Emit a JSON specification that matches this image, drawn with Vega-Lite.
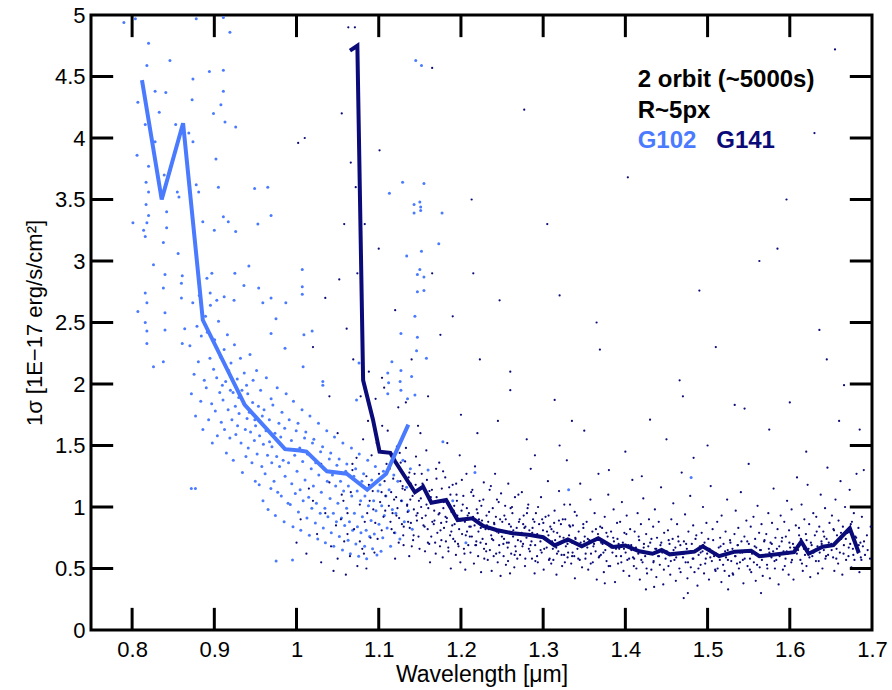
{
"$schema":"https://vega.github.io/schema/vega-lite/v6.json",
"width":781,"height":615,
"autosize":{"type":"none"},
"padding":{"left":91,"top":15,"right":20,"bottom":60},
"background":"white",
"config":{"view":{"stroke":"black","strokeWidth":3},"font":"Liberation Sans"},
"datasets":{
"xticksBottom":[{"v":0.8},{"v":0.9},{"v":1.0},{"v":1.1},{"v":1.2},{"v":1.3},{"v":1.4},{"v":1.5},{"v":1.6}],
"xticksTop":[{"v":0.8},{"v":0.9},{"v":1.0},{"v":1.1},{"v":1.2},{"v":1.3},{"v":1.4},{"v":1.5},{"v":1.6}],
"yticksLeft":[{"v":0.5},{"v":1.0},{"v":1.5},{"v":2.0},{"v":2.5},{"v":3.0},{"v":3.5},{"v":4.0},{"v":4.5}],
"yticksRight":[{"v":0.5},{"v":1.0},{"v":1.5},{"v":2.0},{"v":2.5},{"v":3.0},{"v":3.5},{"v":4.0},{"v":4.5}],
"g102line":[{"w":0.812,"s":4.47},{"w":0.836,"s":3.5},{"w":0.862,"s":4.12},{"w":0.886,"s":2.52},{"w":0.937,"s":1.83},{"w":0.986,"s":1.47},{"w":1.004,"s":1.46},{"w":1.012,"s":1.45},{"w":1.037,"s":1.29},{"w":1.061,"s":1.27},{"w":1.086,"s":1.14},{"w":1.109,"s":1.27},{"w":1.136,"s":1.67}],
"g141line":[{"w":1.065,"s":4.71},{"w":1.074,"s":4.75},{"w":1.081,"s":2.03},{"w":1.093,"s":1.71},{"w":1.101,"s":1.45},{"w":1.114,"s":1.44},{"w":1.12,"s":1.37},{"w":1.144,"s":1.12},{"w":1.154,"s":1.165},{"w":1.164,"s":1.035},{"w":1.182,"s":1.057},{"w":1.196,"s":0.894},{"w":1.214,"s":0.908},{"w":1.227,"s":0.846},{"w":1.243,"s":0.813},{"w":1.263,"s":0.786},{"w":1.284,"s":0.772},{"w":1.3,"s":0.754},{"w":1.314,"s":0.688},{"w":1.33,"s":0.737},{"w":1.347,"s":0.68},{"w":1.367,"s":0.746},{"w":1.385,"s":0.675},{"w":1.4,"s":0.686},{"w":1.417,"s":0.64},{"w":1.433,"s":0.62},{"w":1.444,"s":0.65},{"w":1.454,"s":0.615},{"w":1.484,"s":0.637},{"w":1.494,"s":0.68},{"w":1.514,"s":0.6},{"w":1.533,"s":0.637},{"w":1.553,"s":0.645},{"w":1.563,"s":0.6},{"w":1.605,"s":0.633},{"w":1.614,"s":0.718},{"w":1.623,"s":0.62},{"w":1.64,"s":0.677},{"w":1.653,"s":0.69},{"w":1.673,"s":0.827},{"w":1.684,"s":0.626}],
"g102pts":[
{"w":0.79,"s":4.94},{"w":0.804,"s":4.97},{"w":0.82,"s":4.77},{"w":0.818,"s":4.59},{"w":0.846,"s":4.63},{"w":0.828,"s":4.38},{"w":0.807,"s":4.29},{"w":0.841,"s":4.37},{"w":0.833,"s":4.21},{"w":0.816,"s":4.11},{"w":0.828,"s":3.97},{"w":0.806,"s":3.86},{"w":0.82,"s":3.77},{"w":0.839,"s":3.7},{"w":0.817,"s":3.64},{"w":0.82,"s":3.56},{"w":0.855,"s":3.56},{"w":0.857,"s":3.52},{"w":0.817,"s":3.46},{"w":0.842,"s":3.4},{"w":0.82,"s":3.37},{"w":0.801,"s":3.31},{"w":0.818,"s":3.31},{"w":0.814,"s":3.25},{"w":0.816,"s":3.2},{"w":0.842,"s":3.27},{"w":0.838,"s":3.15},
{"w":0.874,"s":4.48},{"w":0.873,"s":4.31},{"w":0.853,"s":4.11},{"w":0.869,"s":4.04},{"w":0.874,"s":3.97},{"w":0.894,"s":4.54},{"w":0.911,"s":4.55},{"w":0.911,"s":4.38},{"w":0.908,"s":4.27},{"w":0.899,"s":4.2},{"w":0.913,"s":4.13},{"w":0.926,"s":4.09},{"w":0.902,"s":3.83},{"w":0.905,"s":3.6},{"w":0.878,"s":3.62},{"w":0.881,"s":3.56},{"w":0.886,"s":3.32},{"w":0.911,"s":3.36},{"w":0.9,"s":3.25},{"w":0.917,"s":3.32},{"w":0.926,"s":3.24},{"w":0.949,"s":3.59},{"w":0.965,"s":3.6},{"w":0.953,"s":3.3},{"w":0.969,"s":3.37},{"w":0.919,"s":4.86},{"w":0.911,"s":4.98},{"w":0.878,"s":4.97},
{"w":0.826,"s":2.97},{"w":0.816,"s":2.74},{"w":0.818,"s":2.66},{"w":0.807,"s":2.59},{"w":0.816,"s":2.5},{"w":0.818,"s":2.43},{"w":0.818,"s":2.33},{"w":0.826,"s":2.14},{"w":0.838,"s":2.18},{"w":0.84,"s":2.89},{"w":0.838,"s":2.78},{"w":0.84,"s":2.58},{"w":0.84,"s":2.44},{"w":0.861,"s":2.88},{"w":0.86,"s":2.82},{"w":0.86,"s":2.7},{"w":0.864,"s":2.45},{"w":0.861,"s":2.33},{"w":0.872,"s":1.15},{"w":0.877,"s":1.15},{"w":0.856,"s":3.06},{"w":0.891,"s":2.86},{"w":0.897,"s":2.9},{"w":0.895,"s":2.74},{"w":0.903,"s":2.68},{"w":0.912,"s":2.71},{"w":0.924,"s":2.68},{"w":0.925,"s":2.9},{"w":0.942,"s":2.96},{"w":0.936,"s":2.8},{"w":0.954,"s":2.78},{"w":0.959,"s":2.66},{"w":0.969,"s":2.7},{"w":0.987,"s":2.66},{"w":1.007,"s":2.93},{"w":1.007,"s":2.79},{"w":1.007,"s":2.73},{"w":0.975,"s":2.53},{"w":0.969,"s":2.41},{"w":1.019,"s":2.43},{"w":1.009,"s":2.4},{"w":0.986,"s":2.29},{"w":1.008,"s":2.14},{"w":1.032,"s":2.02},{"w":1.032,"s":1.99},
{"w":1.145,"s":4.63},{"w":1.152,"s":4.59},{"w":1.129,"s":3.64},{"w":1.155,"s":3.63},{"w":1.113,"s":3.55},{"w":1.143,"s":3.46},{"w":1.15,"s":3.48},{"w":1.151,"s":3.44},{"w":1.143,"s":3.39},{"w":1.151,"s":3.41},{"w":1.177,"s":3.39},{"w":1.173,"s":3.14},{"w":1.152,"s":3.08},{"w":1.134,"s":3.04},{"w":1.15,"s":2.93},{"w":1.147,"s":2.89},{"w":1.155,"s":2.87},{"w":1.147,"s":2.75},{"w":1.155,"s":2.76},{"w":1.144,"s":2.55},{"w":1.127,"s":2.41},{"w":1.147,"s":2.38},{"w":1.146,"s":2.27},{"w":1.158,"s":2.21},{"w":1.116,"s":2.18},{"w":1.076,"s":2.17},{"w":1.127,"s":2.11},{"w":1.14,"s":2.06},{"w":1.111,"s":2.09},{"w":1.126,"s":2.02},{"w":1.112,"s":2.01},{"w":1.111,"s":1.92},{"w":1.127,"s":1.95},{"w":1.135,"s":1.88},{"w":1.144,"s":1.91},{"w":1.073,"s":1.87},
{"w":1.178,"s":1.53},{"w":1.217,"s":1.28},{"w":1.331,"s":1.14},{"w":1.206,"s":0.71},{"w":1.48,"s":1.24},{"w":1.16,"s":1.3},{"w":1.19,"s":1.05},
{"w":0.8703,"s":2.31},{"w":0.8721,"s":1.92},{"w":0.8738,"s":2.66},{"w":0.8754,"s":2.08},{"w":0.8772,"s":1.74},{"w":0.8789,"s":2.47},
{"w":0.8806,"s":2.18},{"w":0.8817,"s":2.72},{"w":0.8835,"s":1.86},{"w":0.8842,"s":2.39},{"w":0.8861,"s":1.63},{"w":0.8878,"s":2.03},{"w":0.8893,"s":2.55},
{"w":0.8902,"s":1.97},{"w":0.8915,"s":2.42},{"w":0.8931,"s":1.71},{"w":0.8947,"s":2.21},{"w":0.8953,"s":2.64},{"w":0.8968,"s":1.84},{"w":0.8976,"s":1.52},{"w":0.8991,"s":2.12},
{"w":0.9004,"s":2.36},{"w":0.9012,"s":1.78},{"w":0.9029,"s":2.05},{"w":0.9037,"s":1.58},{"w":0.9051,"s":2.51},{"w":0.9066,"s":1.93},{"w":0.9073,"s":2.22},{"w":0.9085,"s":1.69},{"w":0.9098,"s":1.99},
{"w":0.9106,"s":1.87},{"w":0.9119,"s":2.28},{"w":0.9124,"s":1.63},{"w":0.9138,"s":2.02},{"w":0.9147,"s":1.44},{"w":0.9159,"s":2.4},{"w":0.9168,"s":1.79},{"w":0.9175,"s":2.11},{"w":0.9189,"s":1.56},{"w":0.9196,"s":1.95},
{"w":0.9203,"s":2.17},{"w":0.9214,"s":1.71},{"w":0.9228,"s":1.93},{"w":0.9231,"s":1.38},{"w":0.9245,"s":2.32},{"w":0.9256,"s":1.82},{"w":0.9262,"s":1.59},{"w":0.9279,"s":2.04},{"w":0.9283,"s":1.66},{"w":0.9297,"s":1.89},
{"w":0.9301,"s":1.76},{"w":0.9318,"s":2.21},{"w":0.9325,"s":1.52},{"w":0.9336,"s":1.95},{"w":0.9342,"s":1.28},{"w":0.9359,"s":1.84},{"w":0.9364,"s":2.09},{"w":0.9377,"s":1.63},{"w":0.9385,"s":1.41},{"w":0.9392,"s":1.99},{"w":0.9398,"s":1.72},
{"w":0.9407,"s":1.92},{"w":0.9413,"s":1.48},{"w":0.9426,"s":1.77},{"w":0.9434,"s":2.24},{"w":0.9441,"s":1.61},{"w":0.9458,"s":1.36},{"w":0.9466,"s":1.85},{"w":0.9472,"s":2.03},{"w":0.9487,"s":1.54},{"w":0.9493,"s":1.71},{"w":0.9499,"s":1.21},
{"w":0.9502,"s":1.66},{"w":0.9514,"s":2.11},{"w":0.9521,"s":1.43},{"w":0.9537,"s":1.82},{"w":0.9546,"s":1.18},{"w":0.9551,"s":1.58},{"w":0.9563,"s":1.95},{"w":0.9578,"s":1.33},{"w":0.9584,"s":1.74},{"w":0.9592,"s":1.05},{"w":0.9597,"s":1.51},
{"w":0.9605,"s":1.79},{"w":0.9618,"s":1.27},{"w":0.9629,"s":1.62},{"w":0.9633,"s":2.05},{"w":0.9647,"s":1.42},{"w":0.9654,"s":0.98},{"w":0.9669,"s":1.71},{"w":0.9672,"s":1.53},{"w":0.9688,"s":1.15},{"w":0.9691,"s":1.88},{"w":0.9699,"s":1.36},
{"w":0.9701,"s":1.49},{"w":0.9712,"s":1.83},{"w":0.9726,"s":1.21},{"w":0.9738,"s":1.6},{"w":0.9743,"s":0.93},{"w":0.9759,"s":1.41},{"w":0.9765,"s":1.97},{"w":0.9771,"s":1.12},{"w":0.9786,"s":1.68},{"w":0.9794,"s":1.33},{"w":0.9752,"s":0.56},
{"w":0.9808,"s":1.57},{"w":0.9815,"s":1.09},{"w":0.9823,"s":1.77},{"w":0.9837,"s":1.38},{"w":0.9849,"s":0.88},{"w":0.9856,"s":1.64},{"w":0.9861,"s":1.25},{"w":0.9874,"s":1.92},{"w":0.9882,"s":1.47},{"w":0.9897,"s":1.03},
{"w":0.9903,"s":1.36},{"w":0.9911,"s":1.71},{"w":0.9924,"s":1.02},{"w":0.9938,"s":1.54},{"w":0.9942,"s":1.19},{"w":0.9957,"s":0.84},{"w":0.9963,"s":1.86},{"w":0.9978,"s":1.42},{"w":0.9985,"s":1.11},{"w":0.9996,"s":1.62},{"w":0.9951,"s":0.57},
{"w":1.0006,"s":1.29},{"w":1.0018,"s":1.68},{"w":1.0023,"s":0.96},{"w":1.0039,"s":1.48},{"w":1.0044,"s":1.14},{"w":1.0052,"s":0.81},{"w":1.0067,"s":1.79},{"w":1.0075,"s":1.37},{"w":1.0081,"s":1.05},{"w":1.0098,"s":1.56},
{"w":1.0104,"s":1.22},{"w":1.0113,"s":1.61},{"w":1.0127,"s":0.91},{"w":1.0132,"s":1.43},{"w":1.0148,"s":1.08},{"w":1.0156,"s":0.77},{"w":1.0163,"s":1.74},{"w":1.0179,"s":1.31},{"w":1.0186,"s":0.99},{"w":1.0194,"s":1.52},
{"w":1.0205,"s":1.17},{"w":1.0211,"s":1.55},{"w":1.0229,"s":0.87},{"w":1.0234,"s":1.36},{"w":1.0242,"s":1.03},{"w":1.0258,"s":0.74},{"w":1.0267,"s":1.68},{"w":1.0271,"s":1.26},{"w":1.0288,"s":0.95},{"w":1.0293,"s":1.45},
{"w":1.0302,"s":1.12},{"w":1.0317,"s":1.49},{"w":1.0326,"s":0.83},{"w":1.0333,"s":1.31},{"w":1.0345,"s":0.99},{"w":1.0351,"s":0.71},{"w":1.0368,"s":1.62},{"w":1.0374,"s":1.21},{"w":1.0382,"s":0.92},{"w":1.0399,"s":1.39},
{"w":1.0408,"s":1.07},{"w":1.0416,"s":1.44},{"w":1.0423,"s":0.79},{"w":1.0437,"s":1.26},{"w":1.0448,"s":0.95},{"w":1.0453,"s":0.68},{"w":1.0462,"s":1.57},{"w":1.0476,"s":1.17},{"w":1.0485,"s":0.88},{"w":1.0491,"s":1.34},
{"w":1.0503,"s":1.03},{"w":1.0518,"s":1.39},{"w":1.0521,"s":0.76},{"w":1.0535,"s":1.21},{"w":1.0547,"s":0.91},{"w":1.0559,"s":0.65},{"w":1.0564,"s":1.52},{"w":1.0573,"s":1.13},{"w":1.0586,"s":0.85},{"w":1.0598,"s":1.29},
{"w":1.0609,"s":0.99},{"w":1.0612,"s":1.35},{"w":1.0627,"s":0.73},{"w":1.0631,"s":1.17},{"w":1.0644,"s":0.88},{"w":1.0655,"s":0.62},{"w":1.0668,"s":1.48},{"w":1.0672,"s":1.09},{"w":1.0683,"s":0.81},{"w":1.0697,"s":1.25},
{"w":1.0704,"s":0.95},{"w":1.0719,"s":1.31},{"w":1.0722,"s":0.7},{"w":1.0738,"s":1.13},{"w":1.0741,"s":0.84},{"w":1.0756,"s":0.6},{"w":1.0763,"s":1.43},{"w":1.0779,"s":1.05},{"w":1.0784,"s":0.79},{"w":1.0795,"s":1.21},
{"w":1.0801,"s":0.92},{"w":1.0816,"s":1.27},{"w":1.0828,"s":0.68},{"w":1.0832,"s":1.09},{"w":1.0847,"s":0.81},{"w":1.0853,"s":0.58},{"w":1.0866,"s":1.38},{"w":1.0875,"s":1.01},{"w":1.0889,"s":0.76},{"w":1.0892,"s":1.17},
{"w":1.0907,"s":0.89},{"w":1.0914,"s":1.22},{"w":1.0925,"s":0.66},{"w":1.0938,"s":1.05},{"w":1.0946,"s":0.78},{"w":1.0959,"s":1.33},{"w":1.0967,"s":0.97},{"w":1.0978,"s":0.61},{"w":1.0992,"s":1.13},
{"w":1.1003,"s":0.86},{"w":1.1015,"s":1.18},{"w":1.1028,"s":0.64},{"w":1.1036,"s":1.01},{"w":1.1049,"s":0.75},{"w":1.1057,"s":1.29},{"w":1.1068,"s":0.93},{"w":1.1087,"s":1.09},
{"w":1.1102,"s":0.83},{"w":1.1126,"s":1.14},{"w":1.1144,"s":0.68},{"w":1.1165,"s":0.98},{"w":1.1183,"s":1.26},{"w":1.1197,"s":0.79},
{"w":1.1208,"s":0.95},{"w":1.1232,"s":1.21},{"w":1.1257,"s":0.74},{"w":1.1279,"s":1.05},{"w":1.1294,"s":1.38},
{"w":1.1311,"s":0.88},{"w":1.1339,"s":1.16},{"w":1.1362,"s":0.97},{"w":1.1385,"s":1.31},{"w":1.1408,"s":0.82}
],
"g141pts":[
{"w":1.002,"s":3.96},{"w":1.165,"s":4.57},{"w":1.277,"s":4.23},{"w":1.403,"s":3.68},{"w":1.32,"s":2.72},{"w":1.49,"s":2.76},{"w":1.563,"s":3.0},{"w":1.636,"s":2.44},{"w":1.666,"s":1.99},{"w":1.213,"s":3.5},{"w":1.247,"s":2.68},{"w":1.369,"s":2.28},{"w":1.466,"s":2.03},{"w":1.575,"s":1.63},{"w":1.685,"s":1.63},{"w":1.533,"s":1.83},{"w":1.43,"s":1.71},{"w":1.314,"s":1.87},{"w":1.223,"s":2.2},{"w":1.101,"s":3.9},{"w":1.19,"s":2.55},{"w":1.26,"s":1.95},{"w":1.35,"s":1.62},{"w":1.45,"s":1.55},{"w":1.6,"s":1.85},{"w":1.69,"s":1.3},
{"w":1.1,"s":3.1},{"w":1.104,"s":2.05},{"w":1.12,"s":2.6},{"w":1.14,"s":2.2},{"w":1.133,"s":1.85},{"w":1.16,"s":1.9},{"w":1.165,"s":2.9},{"w":1.175,"s":2.4},{"w":1.2,"s":1.75},{"w":1.22,"s":1.6},{"w":1.215,"s":2.9},{"w":1.245,"s":1.7},{"w":1.26,"s":2.1},{"w":1.28,"s":1.55},{"w":1.305,"s":3.3},{"w":1.32,"s":1.5},{"w":1.335,"s":1.7},{"w":1.365,"s":2.5},{"w":1.4,"s":1.45},{"w":1.42,"s":1.25},{"w":1.47,"s":1.9},{"w":1.483,"s":1.4},{"w":1.5,"s":1.5},{"w":1.51,"s":2.3},{"w":1.545,"s":1.8},{"w":1.585,"s":3.1},{"w":1.596,"s":3.5},{"w":1.63,"s":4.04},{"w":1.645,"s":2.2},{"w":1.655,"s":4.72},{"w":1.66,"s":1.7},{"w":1.675,"s":2.5},{"w":1.425,"s":0.33},{"w":1.476,"s":0.3},{"w":1.525,"s":0.33},{"w":1.565,"s":0.3},{"w":1.435,"s":0.35},{"w":1.375,"s":0.38},{"w":1.471,"s":0.26},{"w":1.55,"s":1.35},{"w":1.62,"s":1.45},{"w":1.38,"s":1.3},{"w":1.29,"s":1.42},
{"w":1.0,"s":0.71},{"w":1.005,"s":0.9},{"w":1.012,"s":0.62},{"w":1.02,"s":1.05},{"w":1.025,"s":0.78},{"w":1.03,"s":0.55},{"w":1.035,"s":0.95},{"w":1.04,"s":1.2},{"w":1.042,"s":0.68},{"w":1.048,"s":0.85},{"w":1.05,"s":0.58},{"w":1.055,"s":1.1},{"w":1.058,"s":0.72},{"w":1.062,"s":0.95},{"w":1.065,"s":0.6},{"w":1.068,"s":1.3},{"w":1.07,"s":0.82},{"w":1.074,"s":0.52},{"w":1.077,"s":1.02},{"w":1.08,"s":0.66},{"w":1.083,"s":0.88},{"w":1.085,"s":0.5},{"w":1.088,"s":1.18},{"w":1.09,"s":0.75},{"w":1.045,"s":0.48},{"w":1.06,"s":0.45},{"w":1.03,"s":1.35},{"w":1.015,"s":1.15},{"w":1.01,"s":4.0},{"w":1.02,"s":2.3},{"w":1.04,"s":1.9},{"w":1.05,"s":1.6},{"w":1.035,"s":2.7},
{"w":1.052,"s":2.85},{"w":1.055,"s":4.2},{"w":1.058,"s":3.3},{"w":1.061,"s":2.45},{"w":1.063,"s":4.9},{"w":1.066,"s":3.8},{"w":1.068,"s":1.35},{"w":1.069,"s":2.2},{"w":1.057,"s":1.05},{"w":1.062,"s":0.78},{"w":1.066,"s":1.12},{"w":1.054,"s":0.9},
{"w":1.071,"s":4.9},{"w":1.072,"s":3.6},{"w":1.074,"s":2.9},{"w":1.076,"s":3.95},{"w":1.078,"s":1.9},{"w":1.079,"s":2.6},{"w":1.081,"s":1.55},{"w":1.083,"s":3.3},{"w":1.085,"s":1.25},{"w":1.086,"s":0.95},{"w":1.088,"s":2.1},{"w":1.089,"s":1.05},{"w":1.073,"s":1.4},{"w":1.077,"s":0.72},{"w":1.082,"s":0.62},{"w":1.087,"s":1.7},
{"w":1.0913,"s":1.42},{"w":1.0958,"s":0.87},{"w":1.0927,"s":1.13},{"w":1.1042,"s":1.66},{"w":1.0986,"s":0.74},{"w":1.1071,"s":1.21},{"w":1.0934,"s":0.98},{"w":1.1095,"s":1.35},{"w":1.1017,"s":1.04},{"w":1.0962,"s":1.88},{"w":1.1058,"s":0.92},{"w":1.1003,"s":1.27},{"w":1.0948,"s":0.63},{"w":1.1083,"s":1.09},{"w":1.0975,"s":1.52},{"w":1.1036,"s":0.81},{"w":1.1066,"s":1.97},{"w":1.0921,"s":1.18},
{"w":1.1134,"s":1.31},{"w":1.1187,"s":0.79},{"w":1.1212,"s":1.08},{"w":1.1255,"s":1.44},{"w":1.1168,"s":0.95},{"w":1.1291,"s":1.17},{"w":1.1109,"s":1.62},{"w":1.1243,"s":0.71},{"w":1.1176,"s":1.23},{"w":1.1228,"s":0.99},{"w":1.1282,"s":0.86},{"w":1.1151,"s":1.12},{"w":1.1267,"s":1.36},{"w":1.1199,"s":0.58},{"w":1.1123,"s":1.01},{"w":1.1238,"s":1.81},{"w":1.1274,"s":1.05},{"w":1.1143,"s":0.88},
{"w":1.1318,"s":1.14},{"w":1.1377,"s":0.83},{"w":1.1436,"s":1.27},{"w":1.1352,"s":0.96},{"w":1.1489,"s":1.05},{"w":1.1402,"s":0.68},{"w":1.1331,"s":1.48},{"w":1.1465,"s":0.89},{"w":1.1389,"s":1.19},{"w":1.1424,"s":0.77},{"w":1.1497,"s":1.34},{"w":1.1345,"s":1.01},{"w":1.1458,"s":0.93},{"w":1.1371,"s":0.6},{"w":1.1412,"s":1.09},{"w":1.1304,"s":0.84},{"w":1.1478,"s":1.66},{"w":1.1363,"s":1.24},
{"w":1.1527,"s":0.91},{"w":1.1586,"s":1.22},{"w":1.1639,"s":0.76},{"w":1.1512,"s":1.07},{"w":1.1675,"s":0.97},{"w":1.1563,"s":0.64},{"w":1.1698,"s":1.31},{"w":1.1544,"s":0.85},{"w":1.1617,"s":1.13},{"w":1.1652,"s":0.88},{"w":1.1579,"s":1.46},{"w":1.1603,"s":0.99},{"w":1.1686,"s":0.71},{"w":1.1538,"s":1.18},{"w":1.1624,"s":0.55},{"w":1.1661,"s":1.04},{"w":1.1595,"s":0.82},{"w":1.1507,"s":1.6},
{"w":1.1704,"s":1.08},{"w":1.1713,"s":0.79},{"w":1.1728,"s":0.94},{"w":1.1736,"s":1.36},{"w":1.1745,"s":0.68},{"w":1.1759,"s":0.87},{"w":1.1767,"s":1.15},{"w":1.1778,"s":0.59},{"w":1.1786,"s":0.99},{"w":1.1794,"s":0.83},{"w":1.1809,"s":1.24},{"w":1.1817,"s":0.72},{"w":1.1829,"s":0.91},{"w":1.1834,"s":1.52},{"w":1.1848,"s":0.64},{"w":1.1853,"s":1.03},{"w":1.1868,"s":0.77},{"w":1.1877,"s":0.5},{"w":1.1885,"s":0.96},{"w":1.1899,"s":1.18},
{"w":1.1906,"s":0.74},{"w":1.1918,"s":1.01},{"w":1.1923,"s":0.86},{"w":1.1939,"s":0.61},{"w":1.1942,"s":1.19},{"w":1.1957,"s":0.93},{"w":1.1964,"s":0.7},{"w":1.1978,"s":0.82},{"w":1.1985,"s":1.42},{"w":1.1993,"s":0.55},{"w":1.2007,"s":0.97},{"w":1.2014,"s":0.78},{"w":1.2029,"s":1.09},{"w":1.2036,"s":0.66},{"w":1.2048,"s":0.88},{"w":1.2053,"s":0.49},{"w":1.2067,"s":1.27},{"w":1.2074,"s":0.8},{"w":1.2089,"s":0.69},{"w":1.2097,"s":0.95},
{"w":1.2102,"s":0.84},{"w":1.2116,"s":0.63},{"w":1.2125,"s":1.12},{"w":1.2133,"s":0.76},{"w":1.2147,"s":0.92},{"w":1.2158,"s":0.54},{"w":1.2166,"s":0.85},{"w":1.2171,"s":1.33},{"w":1.2184,"s":0.69},{"w":1.2192,"s":0.98},{"w":1.2209,"s":0.6},{"w":1.2213,"s":0.8},{"w":1.2227,"s":1.05},{"w":1.2238,"s":0.71},{"w":1.2245,"s":0.47},{"w":1.2256,"s":0.89},{"w":1.2263,"s":0.74},{"w":1.2278,"s":1.2},{"w":1.2284,"s":0.58},{"w":1.2299,"s":0.82},
{"w":1.2305,"s":0.7},{"w":1.2311,"s":0.93},{"w":1.2326,"s":0.57},{"w":1.2337,"s":0.82},{"w":1.2349,"s":1.14},{"w":1.2352,"s":0.65},{"w":1.2368,"s":0.77},{"w":1.2374,"s":0.48},{"w":1.2387,"s":0.99},{"w":1.2393,"s":0.73},{"w":1.2406,"s":0.86},{"w":1.2415,"s":1.27},{"w":1.2428,"s":0.62},{"w":1.2434,"s":0.8},{"w":1.2447,"s":0.55},{"w":1.2459,"s":1.04},{"w":1.2465,"s":0.69},{"w":1.2476,"s":0.9},{"w":1.2482,"s":0.44},{"w":1.2498,"s":0.76},
{"w":1.2503,"s":0.88},{"w":1.2519,"s":0.6},{"w":1.2524,"s":0.74},{"w":1.2538,"s":1.01},{"w":1.2547,"s":0.53},{"w":1.2555,"s":0.79},{"w":1.2569,"s":0.67},{"w":1.2576,"s":1.19},{"w":1.2582,"s":0.71},{"w":1.2597,"s":0.46},{"w":1.2608,"s":0.84},{"w":1.2611,"s":0.62},{"w":1.2626,"s":0.95},{"w":1.2634,"s":0.76},{"w":1.2649,"s":0.51},{"w":1.2657,"s":1.08},{"w":1.2662,"s":0.68},{"w":1.2678,"s":0.83},{"w":1.2685,"s":0.58},{"w":1.2693,"s":0.73},
{"w":1.2705,"s":0.88},{"w":1.2719,"s":0.61},{"w":1.2738,"s":0.79},{"w":1.2741,"s":1.12},{"w":1.2756,"s":0.7},{"w":1.2763,"s":0.93},{"w":1.2779,"s":0.52},{"w":1.2784,"s":0.84},{"w":1.2797,"s":0.75},{"w":1.2811,"s":0.99},{"w":1.2826,"s":0.66},{"w":1.2832,"s":0.81},{"w":1.2849,"s":1.31},{"w":1.2858,"s":0.72},{"w":1.2864,"s":0.58},{"w":1.2877,"s":0.9},{"w":1.2889,"s":0.77},{"w":1.2896,"s":0.46},
{"w":1.2903,"s":0.69},{"w":1.2912,"s":0.95},{"w":1.2928,"s":0.78},{"w":1.2935,"s":0.55},{"w":1.2951,"s":0.86},{"w":1.2967,"s":0.72},{"w":1.2974,"s":1.08},{"w":1.2982,"s":0.63},{"w":1.2998,"s":0.81},{"w":1.3006,"s":0.49},{"w":1.3021,"s":0.74},{"w":1.3029,"s":0.92},{"w":1.3043,"s":0.67},{"w":1.3058,"s":1.21},{"w":1.3064,"s":0.77},{"w":1.3079,"s":0.58},{"w":1.3087,"s":0.84},{"w":1.3095,"s":0.71},
{"w":1.3101,"s":0.82},{"w":1.3118,"s":0.66},{"w":1.3124,"s":0.57},{"w":1.3139,"s":0.97},{"w":1.3146,"s":0.73},{"w":1.3162,"s":0.45},{"w":1.3171,"s":0.79},{"w":1.3185,"s":0.64},{"w":1.3193,"s":1.13},{"w":1.3207,"s":0.7},{"w":1.3216,"s":0.86},{"w":1.3231,"s":0.52},{"w":1.3248,"s":0.75},{"w":1.3255,"s":0.61},{"w":1.3269,"s":0.9},{"w":1.3276,"s":0.68},{"w":1.3288,"s":1.38},{"w":1.3297,"s":0.59},
{"w":1.3304,"s":0.63},{"w":1.3315,"s":0.77},{"w":1.3327,"s":1.02},{"w":1.3341,"s":0.54},{"w":1.3353,"s":0.71},{"w":1.3362,"s":0.85},{"w":1.3378,"s":0.6},{"w":1.3386,"s":0.42},{"w":1.3394,"s":0.74},{"w":1.3409,"s":0.93},{"w":1.3417,"s":0.66},{"w":1.3432,"s":0.8},{"w":1.3445,"s":0.57},{"w":1.3451,"s":1.19},{"w":1.3466,"s":0.69},{"w":1.3473,"s":0.51},{"w":1.3489,"s":0.83},{"w":1.3498,"s":0.72},
{"w":1.3506,"s":0.76},{"w":1.3514,"s":0.58},{"w":1.3529,"s":0.88},{"w":1.3537,"s":0.67},{"w":1.3548,"s":0.49},{"w":1.3561,"s":0.73},{"w":1.3575,"s":1.06},{"w":1.3582,"s":0.62},{"w":1.3599,"s":0.8},{"w":1.3604,"s":0.55},{"w":1.3619,"s":0.7},{"w":1.3626,"s":0.95},{"w":1.3638,"s":0.64},{"w":1.3652,"s":0.41},{"w":1.3667,"s":0.78},{"w":1.3673,"s":1.27},{"w":1.3685,"s":0.6},{"w":1.3694,"s":0.84},
{"w":1.3702,"s":0.61},{"w":1.3717,"s":0.83},{"w":1.3723,"s":0.7},{"w":1.3738,"s":0.47},{"w":1.3749,"s":0.92},{"w":1.3756,"s":0.65},{"w":1.3771,"s":0.56},{"w":1.3784,"s":0.76},{"w":1.3792,"s":1.1},{"w":1.3808,"s":0.68},{"w":1.3815,"s":0.52},{"w":1.3826,"s":0.8},{"w":1.3843,"s":0.63},{"w":1.3857,"s":0.98},{"w":1.3861,"s":0.72},{"w":1.3874,"s":0.39},{"w":1.3886,"s":0.66},{"w":1.3899,"s":0.87},
{"w":1.3904,"s":0.74},{"w":1.3911,"s":0.54},{"w":1.3925,"s":0.66},{"w":1.3936,"s":0.88},{"w":1.3947,"s":0.6},{"w":1.3958,"s":1.04},{"w":1.3969,"s":0.71},{"w":1.3977,"s":0.48},{"w":1.3988,"s":0.79},{"w":1.4003,"s":0.63},{"w":1.4016,"s":0.93},{"w":1.4024,"s":0.57},{"w":1.4039,"s":0.69},{"w":1.4047,"s":0.44},{"w":1.4058,"s":0.82},{"w":1.4072,"s":0.65},{"w":1.4085,"s":1.22},{"w":1.4093,"s":0.59},
{"w":1.4107,"s":0.58},{"w":1.4113,"s":0.8},{"w":1.4128,"s":0.67},{"w":1.4134,"s":0.5},{"w":1.4149,"s":0.95},{"w":1.4157,"s":0.62},{"w":1.4168,"s":0.73},{"w":1.4176,"s":0.41},{"w":1.4189,"s":0.86},{"w":1.4195,"s":0.64},{"w":1.4209,"s":0.55},{"w":1.4218,"s":1.07},{"w":1.4226,"s":0.7},{"w":1.4241,"s":0.6},{"w":1.4253,"s":0.78},{"w":1.4264,"s":0.46},{"w":1.4279,"s":0.68},{"w":1.4287,"s":0.9},
{"w":1.4302,"s":0.71},{"w":1.4316,"s":0.49},{"w":1.4321,"s":0.62},{"w":1.4338,"s":0.84},{"w":1.4344,"s":0.56},{"w":1.4359,"s":0.98},{"w":1.4363,"s":0.66},{"w":1.4377,"s":0.43},{"w":1.4385,"s":0.75},{"w":1.4398,"s":0.6},{"w":1.4406,"s":0.88},{"w":1.4419,"s":0.53},{"w":1.4427,"s":0.69},{"w":1.4434,"s":1.16},{"w":1.4448,"s":0.63},{"w":1.4461,"s":0.37},{"w":1.4472,"s":0.79},{"w":1.4489,"s":0.58},
{"w":1.4503,"s":0.64},{"w":1.4518,"s":0.81},{"w":1.4524,"s":0.52},{"w":1.4537,"s":0.7},{"w":1.4546,"s":0.45},{"w":1.4559,"s":0.9},{"w":1.4568,"s":0.61},{"w":1.4575,"s":0.74},{"w":1.4583,"s":1.03},{"w":1.4597,"s":0.57},{"w":1.4608,"s":0.67},{"w":1.4614,"s":0.4},{"w":1.4629,"s":0.86},{"w":1.4638,"s":0.62},{"w":1.4642,"s":0.76},{"w":1.4657,"s":0.5},{"w":1.4669,"s":0.69},{"w":1.4685,"s":1.28},
{"w":1.4701,"s":0.59},{"w":1.4712,"s":0.72},{"w":1.4726,"s":0.94},{"w":1.4733,"s":0.55},{"w":1.4748,"s":0.66},{"w":1.4755,"s":0.42},{"w":1.4767,"s":0.8},{"w":1.4774,"s":0.63},{"w":1.4789,"s":1.09},{"w":1.4796,"s":0.51},{"w":1.4808,"s":0.7},{"w":1.4819,"s":0.58},{"w":1.4825,"s":0.85},{"w":1.4841,"s":0.47},{"w":1.4856,"s":0.65},{"w":1.4863,"s":0.77},{"w":1.4877,"s":0.36},{"w":1.4891,"s":0.61},
{"w":1.4906,"s":0.68},{"w":1.4915,"s":0.53},{"w":1.4928,"s":0.79},{"w":1.4939,"s":0.64},{"w":1.4944,"s":1.0},{"w":1.4957,"s":0.46},{"w":1.4963,"s":0.71},{"w":1.4978,"s":0.58},{"w":1.4986,"s":0.87},{"w":1.4995,"s":0.62},{"w":1.5009,"s":0.74},{"w":1.5017,"s":0.41},{"w":1.5024,"s":0.66},{"w":1.5038,"s":1.17},{"w":1.5052,"s":0.56},{"w":1.5061,"s":0.82},{"w":1.5079,"s":0.6},{"w":1.5092,"s":0.49},
{"w":1.5104,"s":0.62},{"w":1.5117,"s":0.88},{"w":1.5122,"s":0.5},{"w":1.5136,"s":0.67},{"w":1.5149,"s":0.57},{"w":1.5153,"s":0.75},{"w":1.5168,"s":0.39},{"w":1.5171,"s":0.93},{"w":1.5186,"s":0.61},{"w":1.5194,"s":0.7},{"w":1.5207,"s":0.48},{"w":1.5219,"s":0.8},{"w":1.5224,"s":0.59},{"w":1.5238,"s":1.06},{"w":1.5245,"s":0.65},{"w":1.5262,"s":0.44},{"w":1.5273,"s":0.73},{"w":1.5288,"s":0.56},
{"w":1.5303,"s":0.66},{"w":1.5311,"s":0.45},{"w":1.5327,"s":0.78},{"w":1.5335,"s":0.6},{"w":1.5342,"s":0.97},{"w":1.5358,"s":0.54},{"w":1.5366,"s":0.69},{"w":1.5374,"s":0.83},{"w":1.5381,"s":0.5},{"w":1.5397,"s":0.63},{"w":1.5405,"s":1.12},{"w":1.5412,"s":0.72},{"w":1.5429,"s":0.57},{"w":1.5436,"s":0.38},{"w":1.5448,"s":0.76},{"w":1.5457,"s":0.64},{"w":1.5472,"s":0.89},{"w":1.5486,"s":0.52},
{"w":1.5502,"s":0.7},{"w":1.5516,"s":0.58},{"w":1.5525,"s":0.84},{"w":1.5531,"s":0.47},{"w":1.5547,"s":0.63},{"w":1.5558,"s":0.92},{"w":1.5563,"s":0.55},{"w":1.5579,"s":0.74},{"w":1.5586,"s":0.4},{"w":1.5592,"s":0.67},{"w":1.5608,"s":1.01},{"w":1.5615,"s":0.6},{"w":1.5627,"s":0.79},{"w":1.5634,"s":0.51},{"w":1.5649,"s":0.65},{"w":1.5656,"s":0.86},{"w":1.5671,"s":0.44},{"w":1.5688,"s":0.72},
{"w":1.5706,"s":0.61},{"w":1.5714,"s":0.78},{"w":1.5723,"s":0.53},{"w":1.5739,"s":0.95},{"w":1.5745,"s":0.66},{"w":1.5758,"s":0.42},{"w":1.5766,"s":0.71},{"w":1.5777,"s":0.59},{"w":1.5784,"s":0.87},{"w":1.5798,"s":0.64},{"w":1.5803,"s":1.15},{"w":1.5819,"s":0.5},{"w":1.5825,"s":0.75},{"w":1.5836,"s":0.57},{"w":1.5851,"s":0.82},{"w":1.5864,"s":0.37},{"w":1.5872,"s":0.68},{"w":1.5889,"s":0.93},
{"w":1.5902,"s":0.72},{"w":1.5916,"s":0.49},{"w":1.5924,"s":0.64},{"w":1.5933,"s":0.88},{"w":1.5948,"s":0.58},{"w":1.5952,"s":0.76},{"w":1.5967,"s":1.05},{"w":1.5975,"s":0.62},{"w":1.5986,"s":0.45},{"w":1.5991,"s":0.81},{"w":1.6004,"s":0.67},{"w":1.6018,"s":0.55},{"w":1.6022,"s":0.98},{"w":1.6039,"s":0.7},{"w":1.6045,"s":0.41},{"w":1.6057,"s":0.63},{"w":1.6073,"s":0.85},{"w":1.6088,"s":1.24},
{"w":1.6101,"s":0.65},{"w":1.6112,"s":0.83},{"w":1.6129,"s":0.57},{"w":1.6134,"s":0.74},{"w":1.6143,"s":1.02},{"w":1.6158,"s":0.48},{"w":1.6162,"s":0.69},{"w":1.6177,"s":0.9},{"w":1.6185,"s":0.61},{"w":1.6196,"s":0.78},{"w":1.6203,"s":0.52},{"w":1.6217,"s":1.18},{"w":1.6228,"s":0.66},{"w":1.6236,"s":0.86},{"w":1.6249,"s":0.43},{"w":1.6257,"s":0.71},{"w":1.6274,"s":0.6},{"w":1.6286,"s":0.95},
{"w":1.6305,"s":0.77},{"w":1.6318,"s":0.56},{"w":1.6322,"s":0.92},{"w":1.6337,"s":0.68},{"w":1.6343,"s":0.46},{"w":1.6359,"s":0.84},{"w":1.6364,"s":0.63},{"w":1.6376,"s":1.1},{"w":1.6385,"s":0.72},{"w":1.6397,"s":0.5},{"w":1.6408,"s":0.8},{"w":1.6414,"s":0.65},{"w":1.6429,"s":0.99},{"w":1.6433,"s":0.58},{"w":1.6447,"s":0.74},{"w":1.6458,"s":1.32},{"w":1.6466,"s":0.61},{"w":1.6483,"s":0.87},
{"w":1.6504,"s":0.7},{"w":1.6513,"s":0.93},{"w":1.6527,"s":0.59},{"w":1.6538,"s":0.81},{"w":1.6542,"s":0.48},{"w":1.6556,"s":1.06},{"w":1.6569,"s":0.66},{"w":1.6574,"s":0.77},{"w":1.6588,"s":0.54},{"w":1.6593,"s":0.89},{"w":1.6609,"s":0.63},{"w":1.6617,"s":1.21},{"w":1.6625,"s":0.74},{"w":1.6639,"s":0.45},{"w":1.6646,"s":0.84},{"w":1.6658,"s":0.69},{"w":1.6672,"s":1.0},{"w":1.6685,"s":0.57},
{"w":1.6703,"s":0.79},{"w":1.6714,"s":0.6},{"w":1.6728,"s":1.14},{"w":1.6735,"s":0.7},{"w":1.6749,"s":0.51},{"w":1.6756,"s":0.88},{"w":1.6768,"s":0.66},{"w":1.6779,"s":0.95},{"w":1.6787,"s":0.57},{"w":1.6798,"s":0.76},{"w":1.6812,"s":1.27},{"w":1.6826,"s":0.63},{"w":1.6835,"s":0.83},{"w":1.6847,"s":0.47},{"w":1.6859,"s":0.71},{"w":1.6864,"s":0.59},{"w":1.6877,"s":0.92},{"w":1.6889,"s":0.68},{"w":1.6915,"s":0.61},{"w":1.6938,"s":0.77},{"w":1.6962,"s":0.5},{"w":1.6984,"s":0.84},
{"w":1.1215,"s":0.93},{"w":1.1263,"s":1.21},{"w":1.1298,"s":0.77},{"w":1.1321,"s":1.37},{"w":1.1357,"s":0.88},{"w":1.1384,"s":1.06},{"w":1.1418,"s":0.73},{"w":1.1449,"s":1.18},{"w":1.1472,"s":0.95},{"w":1.1496,"s":0.66},{"w":1.1523,"s":1.27},{"w":1.1558,"s":0.84},{"w":1.1581,"s":1.02},{"w":1.1614,"s":0.7},{"w":1.1647,"s":1.14},{"w":1.1678,"s":0.89},{"w":1.1693,"s":0.62},{"w":1.1722,"s":1.05},{"w":1.1751,"s":0.81},{"w":1.1783,"s":1.29},{"w":1.1812,"s":0.92},{"w":1.1846,"s":0.67},{"w":1.1872,"s":1.1},{"w":1.1894,"s":0.85},{"w":1.1928,"s":0.72},{"w":1.1951,"s":1.05},{"w":1.1982,"s":0.9},{"w":1.2011,"s":1.22},{"w":1.2043,"s":0.62},{"w":1.2072,"s":0.99},{"w":1.2108,"s":0.76},{"w":1.2139,"s":1.14},{"w":1.2175,"s":0.69},{"w":1.2203,"s":0.95},{"w":1.2241,"s":0.83},{"w":1.2272,"s":1.06},{"w":1.2307,"s":0.64},{"w":1.2332,"s":0.88},{"w":1.2364,"s":1.17},{"w":1.2398,"s":0.6},{"w":1.2425,"s":0.92},{"w":1.2457,"s":0.79},{"w":1.2488,"s":1.11},{"w":1.2516,"s":0.7},{"w":1.2545,"s":0.9},{"w":1.2573,"s":0.56},{"w":1.2604,"s":0.99},{"w":1.2637,"s":0.81},{"w":1.2668,"s":0.64},{"w":1.2699,"s":1.1},{"w":1.2728,"s":0.72},{"w":1.2757,"s":0.86},{"w":1.2783,"s":0.58},{"w":1.2819,"s":1.02},{"w":1.2846,"s":0.69},{"w":1.2871,"s":0.83},{"w":1.2905,"s":0.56},{"w":1.2938,"s":1.0},{"w":1.2969,"s":0.65},{"w":1.3002,"s":0.87},{"w":1.3034,"s":0.74},{"w":1.3066,"s":0.93},{"w":1.3098,"s":0.54},{"w":1.3127,"s":0.8},{"w":1.3159,"s":0.67},{"w":1.3192,"s":0.89},{"w":1.3224,"s":0.61},{"w":1.3257,"s":1.02},{"w":1.3289,"s":0.72},{"w":1.3318,"s":0.85},{"w":1.3352,"s":0.6},{"w":1.3384,"s":0.96},
{"w":1.1034,"s":1.12},{"w":1.1079,"s":0.97},{"w":1.1127,"s":1.33},{"w":1.1156,"s":0.82},{"w":1.1187,"s":1.06},{"w":1.1221,"s":1.49},{"w":1.1248,"s":0.91},{"w":1.1289,"s":1.15},{"w":1.1302,"s":0.69},{"w":1.1346,"s":1.02},{"w":1.1373,"s":1.28},{"w":1.1391,"s":0.87},{"w":1.1427,"s":0.98},{"w":1.1453,"s":1.41},{"w":1.1484,"s":0.76},{"w":1.1516,"s":1.0},{"w":1.1532,"s":1.19},{"w":1.1571,"s":0.93},{"w":1.1598,"s":0.71},{"w":1.1633,"s":1.08},{"w":1.1669,"s":0.86},{"w":1.1702,"s":1.23},{"w":1.1739,"s":0.95},{"w":1.1762,"s":0.73},{"w":1.1791,"s":1.04},{"w":1.1824,"s":0.88},{"w":1.1857,"s":1.16},{"w":1.1883,"s":0.8},{"w":1.1911,"s":0.97},{"w":1.1946,"s":1.1},{"w":1.1971,"s":0.68},{"w":1.1996,"s":0.89},{"w":1.2022,"s":1.02},{"w":1.2059,"s":0.77},{"w":1.2081,"s":0.93},{"w":1.2119,"s":0.84},{"w":1.2152,"s":1.09},{"w":1.2187,"s":0.72},{"w":1.2219,"s":0.9},{"w":1.2248,"s":1.01},{"w":1.2281,"s":0.66},{"w":1.2316,"s":0.85},{"w":1.2342,"s":0.96},{"w":1.2377,"s":0.74},{"w":1.2403,"s":0.87},{"w":1.2438,"s":1.06},{"w":1.2469,"s":0.63},{"w":1.2493,"s":0.81},{"w":1.2528,"s":0.93},{"w":1.2559,"s":0.71},{"w":1.2586,"s":0.86},{"w":1.2621,"s":1.0},{"w":1.2653,"s":0.61},{"w":1.2689,"s":0.78},{"w":1.2714,"s":0.9},{"w":1.2748,"s":0.68},{"w":1.2772,"s":0.83},{"w":1.2803,"s":0.95},{"w":1.2838,"s":0.64},{"w":1.2867,"s":0.79},{"w":1.2894,"s":0.88},{"w":1.2926,"s":0.6},{"w":1.2957,"s":0.76},{"w":1.2988,"s":0.9},{"w":1.3013,"s":0.66},{"w":1.3047,"s":0.8},{"w":1.3071,"s":0.57},{"w":1.3109,"s":0.72},{"w":1.3134,"s":0.87},{"w":1.3168,"s":0.62},{"w":1.3203,"s":0.76},{"w":1.3239,"s":0.9},{"w":1.3264,"s":0.55},{"w":1.3296,"s":0.7},{"w":1.3329,"s":0.84},{"w":1.3358,"s":0.63},{"w":1.3391,"s":0.75},{"w":1.3427,"s":0.58},{"w":1.3456,"s":0.71},{"w":1.3488,"s":0.86},{"w":1.3517,"s":0.62},{"w":1.3543,"s":0.74},{"w":1.3579,"s":0.54},{"w":1.3611,"s":0.68},{"w":1.3642,"s":0.82},{"w":1.3677,"s":0.59},{"w":1.3706,"s":0.71},{"w":1.3733,"s":0.63},{"w":1.3769,"s":0.79},{"w":1.3797,"s":0.52},{"w":1.3828,"s":0.67},{"w":1.3852,"s":0.75},{"w":1.3889,"s":0.6},{"w":1.3918,"s":0.7},{"w":1.3951,"s":0.55},{"w":1.3983,"s":0.66},{"w":1.4012,"s":0.78},{"w":1.4046,"s":0.58},{"w":1.4071,"s":0.69},{"w":1.4103,"s":0.52},{"w":1.4136,"s":0.65},{"w":1.4162,"s":0.76},{"w":1.4194,"s":0.57},{"w":1.4223,"s":0.67},{"w":1.4258,"s":0.5},{"w":1.4284,"s":0.62},{"w":1.4317,"s":0.74},{"w":1.4341,"s":0.55},{"w":1.4376,"s":0.66},{"w":1.4409,"s":0.6},{"w":1.4437,"s":0.71},{"w":1.4468,"s":0.49},{"w":1.4492,"s":0.63},{"w":1.4527,"s":0.73},{"w":1.4553,"s":0.56},{"w":1.4586,"s":0.65},{"w":1.4618,"s":0.59},{"w":1.4647,"s":0.72},{"w":1.4672,"s":0.47},{"w":1.4708,"s":0.62},{"w":1.4739,"s":0.7},{"w":1.4762,"s":0.55},{"w":1.4794,"s":0.64},{"w":1.4827,"s":0.58},{"w":1.4853,"s":0.74},{"w":1.4889,"s":0.5},{"w":1.4916,"s":0.63},{"w":1.4948,"s":0.69},{"w":1.4971,"s":0.54},{"w":1.5006,"s":0.66},{"w":1.5033,"s":0.59},{"w":1.5068,"s":0.73},{"w":1.5097,"s":0.48},{"w":1.5124,"s":0.61},{"w":1.5158,"s":0.68},{"w":1.5189,"s":0.53},{"w":1.5213,"s":0.64},{"w":1.5247,"s":0.57},{"w":1.5278,"s":0.71},{"w":1.5305,"s":0.46},{"w":1.5339,"s":0.6},{"w":1.5367,"s":0.69},{"w":1.5394,"s":0.55},{"w":1.5422,"s":0.63},{"w":1.5451,"s":0.58},{"w":1.5483,"s":0.72},{"w":1.5514,"s":0.49},{"w":1.5541,"s":0.62},{"w":1.5573,"s":0.68},{"w":1.5602,"s":0.53},{"w":1.5638,"s":0.65},{"w":1.5661,"s":0.57},{"w":1.5693,"s":0.73},{"w":1.5727,"s":0.5},{"w":1.5752,"s":0.63},{"w":1.5781,"s":0.7},{"w":1.5814,"s":0.56},{"w":1.5843,"s":0.66},{"w":1.5876,"s":0.6},{"w":1.5907,"s":0.75},{"w":1.5939,"s":0.52},{"w":1.5963,"s":0.64},{"w":1.5995,"s":0.71},{"w":1.6027,"s":0.57},{"w":1.6052,"s":0.67},{"w":1.6086,"s":0.62},{"w":1.6113,"s":0.77},{"w":1.6148,"s":0.54},{"w":1.6171,"s":0.66},{"w":1.6204,"s":0.73},{"w":1.6239,"s":0.59},{"w":1.6266,"s":0.69},{"w":1.6291,"s":0.63},{"w":1.6327,"s":0.8},{"w":1.6352,"s":0.56},{"w":1.6388,"s":0.7},{"w":1.6419,"s":0.76},{"w":1.6441,"s":0.6},{"w":1.6474,"s":0.71},{"w":1.6509,"s":0.65},{"w":1.6531,"s":0.82},{"w":1.6566,"s":0.58},{"w":1.6597,"s":0.73},{"w":1.6623,"s":0.79},{"w":1.6654,"s":0.62},{"w":1.6681,"s":0.74},{"w":1.6717,"s":0.67},{"w":1.6742,"s":0.86},{"w":1.6773,"s":0.61},{"w":1.6808,"s":0.75},{"w":1.6839,"s":0.69},{"w":1.6871,"s":0.57},{"w":1.6903,"s":0.72},{"w":1.6947,"s":0.65},{"w":1.6976,"s":0.58}
],
"txtBlack":[{"t":"2 orbit (~5000s)","w":1.415,"s":4.415},{"t":"R~5px","w":1.415,"s":4.16}],
"txtG102":[{"t":"G102","w":1.415,"s":3.92}],
"txtG141":[{"t":"G141","w":1.5105,"s":3.92}]
},
"resolve":{"axis":{"x":"independent","y":"independent"}},
"layer":[
{"data":{"name":"g102pts"},"mark":{"type":"circle","size":9,"opacity":1,"color":"#4a7bff","clip":true},
 "encoding":{
  "x":{"field":"w","type":"quantitative","scale":{"domain":[0.75,1.7],"nice":false,"zero":false,"padding":0},
   "axis":{"orient":"bottom","values":[0.8,0.9,1,1.1,1.2,1.3,1.4,1.5,1.6,1.7],"labelExpr":"''+datum.value","ticks":false,"domain":false,"grid":false,"labelPadding":9,"labelFontSize":22,"labelColor":"black","labelFont":"Liberation Sans","labelFlush":false,"labelOverlap":false,"title":"Wavelength [μm]","titleFontSize":23,"titleFontWeight":"normal","titleColor":"black","titleFont":"Liberation Sans","titlePadding":3}},
  "y":{"field":"s","type":"quantitative","scale":{"domain":[0,5],"nice":false,"zero":false,"padding":0},
   "axis":{"orient":"left","values":[0,0.5,1,1.5,2,2.5,3,3.5,4,4.5,5],"labelExpr":"''+datum.value","ticks":false,"domain":false,"grid":false,"labelPadding":6,"labelFontSize":22,"labelColor":"black","labelFont":"Liberation Sans","labelFlush":false,"labelOverlap":false,"title":"1σ [1E−17 erg/s/cm²]","titleFontSize":22,"titleFontWeight":"normal","titleColor":"black","titleFont":"Liberation Sans","titlePadding":8}}
 }},
{"data":{"name":"g141pts"},"mark":{"type":"circle","size":5,"opacity":1,"color":"#0a0a78","clip":true},
 "encoding":{"x":{"field":"w","type":"quantitative","axis":null},"y":{"field":"s","type":"quantitative","axis":null}}},
{"data":{"name":"g141line"},"mark":{"type":"line","strokeWidth":4,"color":"#0a0a78","clip":true,"strokeJoin":"miter"},
 "encoding":{"x":{"field":"w","type":"quantitative","axis":null},"y":{"field":"s","type":"quantitative","axis":null}}},
{"data":{"name":"g102line"},"mark":{"type":"line","strokeWidth":4,"color":"#4a7bff","clip":true,"strokeJoin":"miter"},
 "encoding":{"x":{"field":"w","type":"quantitative","axis":null},"y":{"field":"s","type":"quantitative","axis":null}}},
{"data":{"name":"xticksBottom"},"mark":{"type":"bar","width":3,"color":"black","opacity":1},
 "encoding":{"x":{"field":"v","type":"quantitative","axis":null},"y":{"datum":0,"type":"quantitative","axis":null},"y2":{"datum":0.18}}},
{"data":{"name":"xticksTop"},"mark":{"type":"bar","width":3,"color":"black","opacity":1},
 "encoding":{"x":{"field":"v","type":"quantitative","axis":null},"y":{"datum":5,"type":"quantitative","axis":null},"y2":{"datum":4.82}}},
{"data":{"name":"yticksLeft"},"mark":{"type":"bar","orient":"horizontal","height":3,"color":"black","opacity":1},
 "encoding":{"y":{"field":"v","type":"quantitative","axis":null},"x":{"datum":0.75,"type":"quantitative","axis":null},"x2":{"datum":0.777}}},
{"data":{"name":"yticksRight"},"mark":{"type":"bar","orient":"horizontal","height":3,"color":"black","opacity":1},
 "encoding":{"y":{"field":"v","type":"quantitative","axis":null},"x":{"datum":1.7,"type":"quantitative","axis":null},"x2":{"datum":1.673}}},
{"data":{"name":"txtBlack"},"mark":{"type":"text","align":"left","baseline":"alphabetic","fontSize":24,"fontWeight":"bold","font":"Liberation Sans","color":"black"},
 "encoding":{"x":{"field":"w","type":"quantitative","axis":null},"y":{"field":"s","type":"quantitative","axis":null},"text":{"field":"t"}}},
{"data":{"name":"txtG102"},"mark":{"type":"text","align":"left","baseline":"alphabetic","fontSize":24,"fontWeight":"bold","font":"Liberation Sans","color":"#4a7bff"},
 "encoding":{"x":{"field":"w","type":"quantitative","axis":null},"y":{"field":"s","type":"quantitative","axis":null},"text":{"field":"t"}}},
{"data":{"name":"txtG141"},"mark":{"type":"text","align":"left","baseline":"alphabetic","fontSize":24,"fontWeight":"bold","font":"Liberation Sans","color":"#0a0a78"},
 "encoding":{"x":{"field":"w","type":"quantitative","axis":null},"y":{"field":"s","type":"quantitative","axis":null},"text":{"field":"t"}}}
]
}
